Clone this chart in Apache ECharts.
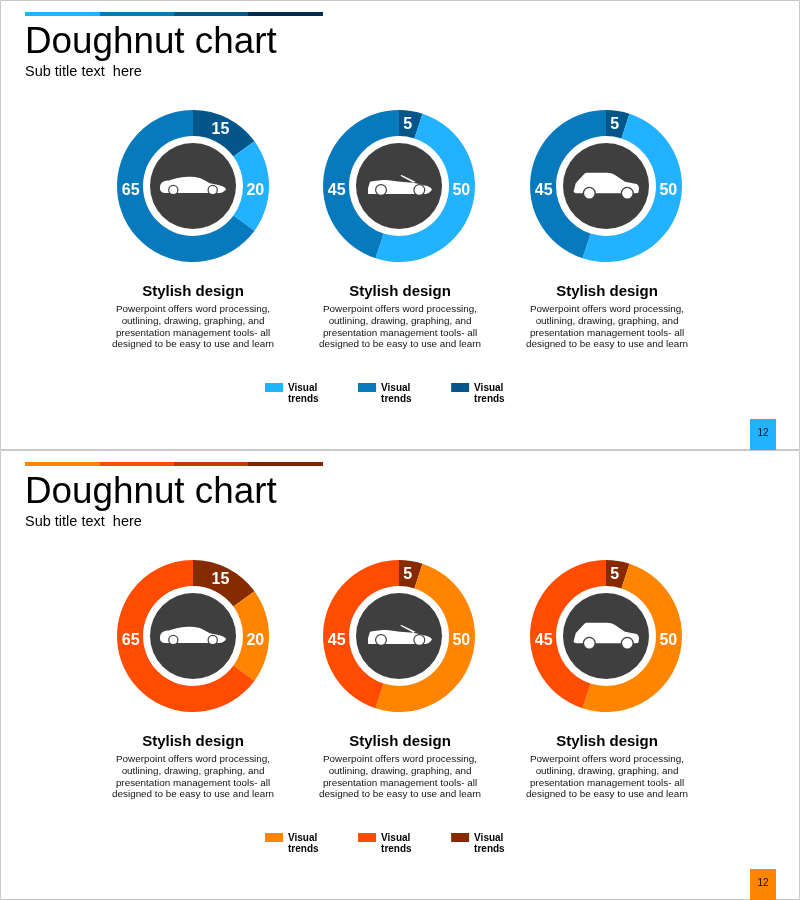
<!DOCTYPE html>
<html>
<head>
<meta charset="utf-8">
<title>Doughnut chart</title>
<style>
  html, body { margin: 0; padding: 0; background: #fff; }
  #main { width: 800px; height: 900px; }
</style>
<script src="https://cdn.jsdelivr.net/npm/echarts@6/dist/echarts.min.js"></script>
</head>
<body>
<div id="main"></div>
<script>
// values go clockwise from 12 o'clock: small dark slice, light slice, mid slice
const sedanValues = [15, 20, 65]
const convertibleValues = [5, 50, 45]
const suvValues = [5, 50, 45]

const titleText = 'Doughnut chart'
const subTitleText = 'Sub title text  here'
const headingText = 'Stylish design'
const bodyLines = [
  'Powerpoint offers word processing,',
  'outlining, drawing, graphing, and',
  'presentation management tools- all',
  'designed to be easy to use and learn'
]
const legendText = 'Visual\ntrends'
const pageNumber = '12'

const blueColors = { light: '#22b2ff', mid: '#067abd', dark: '#02568a', darkest: '#012c4e', bar3: '#02568a' }
const orangeColors = { light: '#ff8500', mid: '#ff4c00', dark: '#862a02', darkest: '#7c2500', bar3: '#c23a00' }

const FONT = '"Liberation Sans", Arial, sans-serif'
const PANEL_H = 450
const ringX = [193, 399, 606]
const ringY = 186
const textX = [193, 400, 607]

// label direction inside the ring, degrees clockwise from top
const sedanLabelAngles = [26, 94, 266]
const otherLabelAngles = [8, 94, 266]

const sedanPath = 'M-33,3 C-33,0 -33,-2 -31,-3.5 C-29,-5 -27,-5.5 -24,-5.5 C-18,-8 -8,-9.5 -2,-9.3 C3,-9 6,-8.5 9,-7 L17,-2.7 C22,-1.5 27,-1 30,0.5 C32,1.5 33,2.5 33,3.3 C32,5 30,6.5 27,7 L-28,7 C-31,7 -33,5 -33,3 Z'
const convertiblePath = 'M-31,2.3 L-29,-4.3 C-24,-5.5 -17,-6 -12,-6 L1,-4.3 L14,-3.3 C19,-2.5 24,-1 28,0 C31,1 32,2 33,3.3 C32,5 31,6.5 29,7.3 L27,8 L-31,8 Z M1.3,-10.3 L2.6,-11 L16.5,-4.2 L14.5,-3.2 Z'
const suvPath = 'M-32,4 L-30.3,-2.7 L-22.7,-11 C-21.5,-12.5 -20.5,-13.3 -19,-13.3 L0.7,-13.3 C4,-13.3 6.5,-12.5 9,-11 L19,-4.3 L30.7,-2 C32,-1 33,0.5 33,2.3 L32.3,6.7 L30,7.3 L-30,7.3 L-32.5,6 Z'

// the graphic component only knows registered shapes, so the car outlines go in here
echarts.graphic.registerShape('sedanCar', echarts.graphic.extendPath(sedanPath, {}))
echarts.graphic.registerShape('convertibleCar', echarts.graphic.extendPath(convertiblePath, {}))
echarts.graphic.registerShape('suvCar', echarts.graphic.extendPath(suvPath, {}))

const rings = [
  { values: sedanValues, angles: sedanLabelAngles, car: 'sedanCar', wheels: [[-19.7, 4], [19.7, 4]], r: 4, gap: 1.2 },
  { values: convertibleValues, angles: otherLabelAngles, car: 'convertibleCar', wheels: [[-18, 4], [20.3, 4]], r: 4.8, gap: 1.2 },
  { values: suvValues, angles: otherLabelAngles, car: 'suvCar', wheels: [[-16.7, 7.3], [21.3, 7.3]], r: 5.2, gap: 1.4 }
]

const panels = [
  { prefix: 'blue', colors: blueColors, y: 0 },
  { prefix: 'orange', colors: orangeColors, y: PANEL_H }
]

const series = []
const legends = []
const graphics = []

panels.forEach(panel => {
  const c = panel.colors
  const names = [panel.prefix + ' dark', panel.prefix + ' light', panel.prefix + ' mid']
  const sliceColors = [c.dark, c.light, c.mid]

  rings.forEach((ring, i) => {
    const cy = ringY + panel.y
    series.push({
      type: 'pie',
      center: [ringX[i], cy],
      radius: [50, 76],
      startAngle: 90,
      clockwise: true,
      avoidLabelOverlap: false,
      animation: false,
      silent: true,
      label: {
        position: 'inside',
        formatter: '{c}',
        color: '#fff',
        fontFamily: FONT,
        fontSize: 16,
        fontWeight: 'bold'
      },
      labelLine: { show: false },
      labelLayout: params => {
        const a = ring.angles[params.dataIndex] * Math.PI / 180
        return {
          x: ringX[i] + 62.5 * Math.sin(a),
          y: cy - 62.5 * Math.cos(a),
          align: 'center',
          verticalAlign: 'middle'
        }
      },
      data: ring.values.map((v, k) => ({
        name: names[k],
        value: v,
        itemStyle: { color: sliceColors[k] }
      }))
    })

    // dark disc with the car on it
    graphics.push({
      type: 'group',
      x: ringX[i],
      y: cy,
      children: [
        { type: 'circle', shape: { cx: 0, cy: 0, r: 43 }, style: { fill: '#3f3f3f' } },
        { type: ring.car, style: { fill: '#fff' } }
      ].concat(ring.wheels.flatMap(w => [
        { type: 'circle', shape: { cx: w[0], cy: w[1], r: ring.r + ring.gap }, style: { fill: '#3f3f3f' } },
        { type: 'circle', shape: { cx: w[0], cy: w[1], r: ring.r }, style: { fill: '#fff' } }
      ]))
    })

    graphics.push({
      type: 'text', x: textX[i], y: 292 + panel.y,
      style: {
        text: headingText, fill: '#000', font: 'bold 15px ' + FONT,
        textAlign: 'center', textVerticalAlign: 'middle'
      }
    })
    bodyLines.forEach((line, k) => {
      graphics.push({
        type: 'text', x: textX[i], y: 309.5 + k * 11.7 + panel.y,
        style: {
          text: line, fill: '#111', font: '9.9px ' + FONT,
          textAlign: 'center', textVerticalAlign: 'middle'
        }
      })
    })
  })

  legends.push({
    left: 265,
    top: 383 + panel.y,
    padding: 0,
    orient: 'horizontal',
    itemWidth: 18,
    itemHeight: 22,
    itemGap: 39.5,
    selectedMode: false,
    // second sub path only stretches the box so the swatch sits on the first text line
    icon: 'path://M0,0H18V9H0Z M0,22L0,22Z',
    formatter: () => legendText,
    textStyle: {
      color: '#000', fontFamily: FONT, fontSize: 10, fontWeight: 'bold', lineHeight: 11
    },
    data: [names[1], names[2], names[0]]
  })

  // frame, top bar, page box
  graphics.push({
    type: 'rect',
    shape: { x: 0.5, y: panel.y + 0.5, width: 799, height: PANEL_H - 1 },
    style: { fill: 'none', stroke: '#c8c8c8', lineWidth: 1 }
  })
  const barColors = [c.light, c.mid, c.bar3, c.darkest]
  const barX = [25, 100, 174, 248, 323]
  barColors.forEach((col, k) => {
    graphics.push({
      type: 'rect',
      shape: { x: barX[k], y: 12 + panel.y, width: barX[k + 1] - barX[k], height: 4 },
      style: { fill: col }
    })
  })
  graphics.push({
    type: 'rect',
    shape: { x: 750, y: 419 + panel.y, width: 26, height: 31 },
    style: { fill: c.light }
  })
  graphics.push({
    type: 'text', x: 763, y: 433 + panel.y,
    style: {
      text: pageNumber, fill: '#111', font: '10px ' + FONT,
      textAlign: 'center', textVerticalAlign: 'middle'
    }
  })
})

const titles = panels.flatMap(panel => [
  {
    text: titleText, left: 25, top: 24 + panel.y, padding: 0,
    textStyle: { color: '#000', fontFamily: FONT, fontSize: 36.8, fontWeight: 'normal' }
  },
  {
    text: subTitleText, left: 25, top: 64 + panel.y, padding: 0,
    textStyle: { color: '#000', fontFamily: FONT, fontSize: 14.5, fontWeight: 'normal' }
  }
])

const myChart = echarts.init(document.getElementById('main'))
myChart.setOption({
  animation: false,
  backgroundColor: '#fff',
  title: titles,
  legend: legends,
  series: series,
  graphic: graphics
})
</script>
</body>
</html>
